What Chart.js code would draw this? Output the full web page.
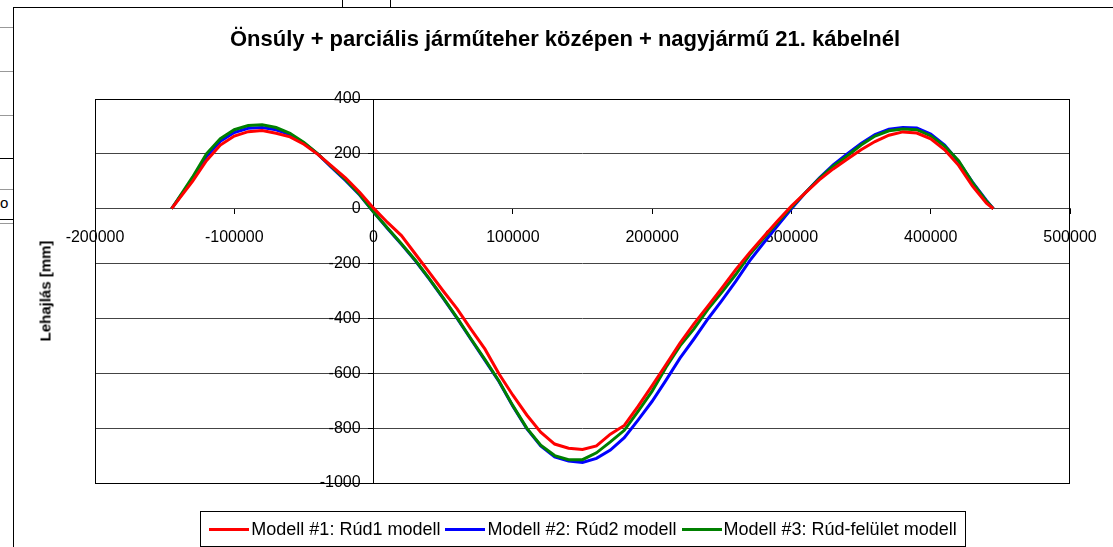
<!DOCTYPE html>
<html>
<head>
<meta charset="utf-8">
<script src="https://cdn.jsdelivr.net/npm/chart.js@4.4.1/dist/chart.umd.min.js"></script>
<style>
  html, body { margin: 0; padding: 0; background: #fff; }
  body { width: 1113px; height: 547px; position: relative; overflow: hidden; font-family: "Liberation Sans", Arial, sans-serif; }
  .hl { position: absolute; left: 0; width: 13px; height: 1px; background: #999; }
  .vl { position: absolute; top: 0; width: 1px; height: 7px; background: #000; }
  #frame { position: absolute; left: 13px; top: 7px; width: 1120px; height: 560px; border: 1px solid #000; background: #fff; }
  #cellText { position: absolute; left: 0; top: 194px; font-size: 15px; }
  #chart { position: absolute; left: 0; top: 0; }
  #title { position: absolute; left: 13px; width: 1104px; top: 26px; text-align: center; font-weight: bold; font-size: 22px; white-space: nowrap; }
  #ytitle { position: absolute; left: 45px; top: 291px; font-weight: bold; font-size: 15px; white-space: nowrap; transform: translate(-50%, -50%) rotate(-90deg); }
  #legend { position: absolute; left: 200px; top: 511px; width: 764px; height: 34px; border: 1px solid #000;
            display: flex; align-items: center; justify-content: center; gap: 5px; font-size: 18px; }
  #legend span { display: inline-flex; align-items: center; }
  #legend i { display: inline-block; width: 40px; height: 3px; margin-right: 2px; }
</style>
</head>
<body>
<div class="hl" style="top:27px"></div>
<div class="hl" style="top:71px"></div>
<div class="hl" style="top:115px"></div>
<div class="hl" style="top:158px; background:#000"></div>
<div class="hl" style="top:189px"></div>
<div class="hl" style="top:219px; background:#000"></div>
<div class="hl" style="top:223px"></div>
<div id="cellText">o</div>
<div class="vl" style="left:342px"></div>
<div class="vl" style="left:390px"></div>
<div id="frame"></div>
<canvas id="chart" width="1113" height="547"></canvas>
<div id="title">Önsúly + parciális járműteher középen + nagyjármű 21. kábelnél</div>
<div id="ytitle">Lehajlás [mm]</div>
<div id="legend"></div>
<script>
  // position along the bridge
  const xPos = [-145000, -130000, -120000, -110000, -100000, -90000, -80000, -70000, -60000, -50000,
    -40000, -30000, -20000, -10000, 0, 10000, 20000, 30000, 40000, 50000,
    60000, 70000, 80000, 90000, 100000, 110000, 120000, 130000, 140000, 150000,
    160000, 170000, 180000, 190000, 200000, 210000, 220000, 230000, 240000, 250000,
    260000, 270000, 280000, 290000, 300000, 310000, 320000, 330000, 340000, 350000,
    360000, 370000, 380000, 390000, 400000, 410000, 420000, 430000, 440000, 445000];

  // deflection [mm]
  const model1 = [0, 100, 175, 232, 265, 281, 285, 275, 262, 235,
    198, 155, 112, 60, 2, -50, -98, -165, -232, -300,
    -365, -440, -512, -602, -680, -752, -815, -858, -873, -878,
    -865, -822, -790, -720, -645, -568, -490, -420, -355, -290,
    -222, -160, -102, -45, 10, 58, 105, 145, 180, 215,
    245, 268, 280, 276, 255, 215, 158, 82, 20, 0];

  const model2 = [0, 108, 190, 246, 278, 293, 296, 288, 270, 240,
    199, 150, 102, 50, -12, -72, -130, -190, -257, -327,
    -400, -477, -553, -630, -720, -802, -865, -905, -920, -925,
    -910, -880, -835, -770, -702, -625, -545, -475, -402, -335,
    -265, -190, -125, -62, 0, 58, 112, 160, 200, 238,
    270, 290, 296, 294, 272, 232, 172, 97, 30, 0];

  const model3 = [0, 115, 200, 255, 288, 303, 306, 296, 275, 242,
    200, 152, 105, 52, -12, -70, -128, -188, -255, -325,
    -398, -475, -550, -628, -718, -800, -862, -900, -915, -915,
    -890, -850, -808, -738, -665, -578, -500, -438, -367, -305,
    -240, -168, -108, -50, 5, 58, 110, 155, 192, 232,
    265, 284, 291, 288, 266, 228, 175, 95, 28, 0];

  const seriesNames = ['Modell #1: Rúd1 modell', 'Modell #2: Rúd2 modell', 'Modell #3: Rúd-felület modell'];
  const seriesColors = ['#ff0000', '#0000ff', '#008000'];

  const toPoints = vals => vals.map((v, i) => ({ x: xPos[i], y: v }));

  const plotBorder = {
    id: 'plotBorder',
    beforeDatasetsDraw(chart) {
      const a = chart.chartArea, c = chart.ctx;
      c.save();
      c.strokeStyle = '#000';
      c.lineWidth = 1;
      c.strokeRect(Math.round(a.left) + 0.5, Math.round(a.top) + 0.5, Math.round(a.right - a.left) - 1, Math.round(a.bottom - a.top));
      c.restore();
    }
  };

  const tickFont = { family: '"Liberation Sans", Arial, sans-serif', size: 16 };

  const chart = new Chart(document.getElementById('chart'), {
    type: 'line',
    data: {
      datasets: [model1, model2, model3].map((vals, i) => ({
        label: seriesNames[i],
        data: toPoints(vals),
        borderColor: seriesColors[i],
        backgroundColor: seriesColors[i],
        borderWidth: 3,
        pointRadius: 0,
        tension: 0,
        fill: false,
        order: i === 0 ? 0 : 3 - i
      }))
    },
    options: {
      responsive: false,
      animation: false,
      layout: { padding: { left: 95, right: 43, top: 99, bottom: 64 } },
      plugins: { legend: { display: false }, title: { display: false }, tooltip: { enabled: false } },
      scales: {
        x: {
          type: 'linear',
          position: { y: 0 },
          min: -200000, max: 500000,
          afterFit: s => { s.height = 0; },
          ticks: { stepSize: 100000, autoSkip: false, maxRotation: 0, color: '#000', font: tickFont, padding: 14,
                   callback: v => String(v) },
          grid: { drawOnChartArea: false, tickLength: 5, tickColor: '#000' },
          border: { color: '#444', width: 1 }
        },
        // axis line, tick marks and horizontal gridlines
        y: {
          type: 'linear',
          position: { x: 0 },
          min: -1000, max: 400,
          afterFit: s => { s.width = 0; },
          ticks: { stepSize: 200, display: false },
          grid: { color: '#444', tickLength: 5, tickColor: '#000' },
          border: { color: '#000', width: 1 }
        },
        // value labels, set a little left of the axis line
        yLabels: {
          type: 'linear',
          position: { x: -9300 },
          min: -1000, max: 400,
          afterFit: s => { s.width = 0; },
          ticks: { stepSize: 200, color: '#000', font: tickFont, callback: v => String(v) },
          grid: { display: false },
          border: { display: false }
        }
      }
    },
    plugins: [plotBorder]
  });

  const legend = document.getElementById('legend');
  chart.data.datasets.forEach(ds => {
    const item = document.createElement('span');
    const swatch = document.createElement('i');
    swatch.style.background = ds.borderColor;
    item.appendChild(swatch);
    item.appendChild(document.createTextNode(ds.label));
    legend.appendChild(item);
  });
</script>
</body>
</html>
